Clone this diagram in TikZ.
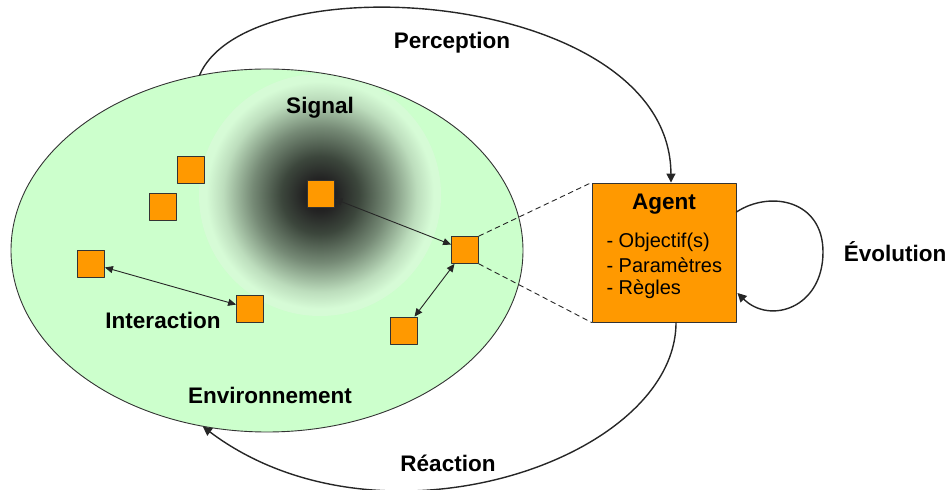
\documentclass[tikz,border=0pt]{standalone}
\usepackage{fontspec}
\setmainfont{Liberation Sans}
\usetikzlibrary{arrows.meta,shapes.geometric,calc}
\definecolor{cMint}{HTML}{CCFFCC}
\definecolor{cGlow}{HTML}{D6FBD6}
\definecolor{cAmber}{HTML}{FF9900}
\pgfdeclareradialshading{signalglow}{\pgfpoint{0bp}{0bp}}{%
  color(0bp)=(black!92); color(3.5bp)=(black!86); color(8bp)=(black!72!cGlow);
  color(14bp)=(black!45!cGlow); color(20bp)=(black!12!cGlow);
  color(23.5bp)=(cGlow); color(50bp)=(cGlow)}

\begin{document}
\begin{tikzpicture}[
 x=1pt,y=1pt,font=\fontsize{20}{24}\selectfont,
 line cap=round,line join=round,
 unit/.style={draw=black!80,line width=.8pt,fill=cAmber,minimum size=27pt,inner sep=0pt},
 agentbox/.style={draw=black!80,line width=.9pt,fill=cAmber,minimum width=144pt,minimum height=139pt,inner sep=0pt},
 link/.style={draw=black!85,line width=.9pt,{Triangle[length=8pt,width=7pt]}-{Triangle[length=8pt,width=7pt]}},
 flow/.style={draw=black!85,line width=1.4pt,-{Triangle[length=9pt,width=9pt]}},
 zoomline/.style={draw=black!85,line width=.9pt,dash pattern=on 5pt off 4pt},
 head/.style={font=\fontsize{22.5}{26}\selectfont\bfseries}]
\path[use as bounding box] (0,0) rectangle (951,490);

% environment and signal
\node[ellipse,draw=black!80,line width=.9pt,fill=cMint,minimum width=512pt,
  minimum height=363pt,inner sep=0pt] (env) at (267,239.5) {};
\begin{scope}
  \clip (267,239.5) ellipse [x radius=255, y radius=180.5];
  \shade[shading=signalglow] (320,295) circle [radius=121];
\end{scope}

\node[head] (signal) at (320,382) {Signal};
\node[head] (interaction) at (163,170) {Interaction};
\node[head] (environnement) at (270,95) {Environnement};

% agents in the environment
\node[unit] (u1) at (190.5,320.5) {};
\node[unit] (u2) at (163,283) {};
\node[unit] (u3) at (320.5,296.5) {};
\node[unit] (u4) at (465,240) {};
\node[unit] (u5) at (91,226.5) {};
\node[unit] (u6) at (250,181.5) {};
\node[unit] (u7) at (404,159.5) {};

\draw[link] (u3) -- (u4);
\draw[link] (u5) -- (u6);
\draw[link] (u4) -- (u7);

% zoom on one agent
\node[agentbox] (agent) at (664,237.5) {};
\node[head] (agenttitle) at (664,286) {Agent};
\node[anchor=west] (obj) at (603,248) {- Objectif(s)};
\node[anchor=west] (par) at (603,225) {- Paramètres};
\node[anchor=west] (reg) at (603,201) {- Règles};

\draw[zoomline] (u4.north east) -- (agent.north west);
\draw[zoomline] (u4.south east) -- (agent.south west);

% loops
\draw[flow] (env.111) .. controls (250,530) and (670,500) .. ($(agent.north)+(7,0)$);
\draw[flow] ($(agent.south)+(12,0)$) .. controls (676,30) and (380,-70) .. (env.250);
\draw[flow] ($(agent.east)+(0,40.5)$) .. controls (770,300) and (823,290) .. (823,238)
  .. controls (823,182) and (770,165) .. ($(agent.east)+(1,-40.5)$);

\node[head] (perception) at (452,447) {Perception};
\node[head] (reaction) at (448,27) {Réaction};
\node[head] (evolution) at (895,238) {Évolution};
\end{tikzpicture}
\end{document}
